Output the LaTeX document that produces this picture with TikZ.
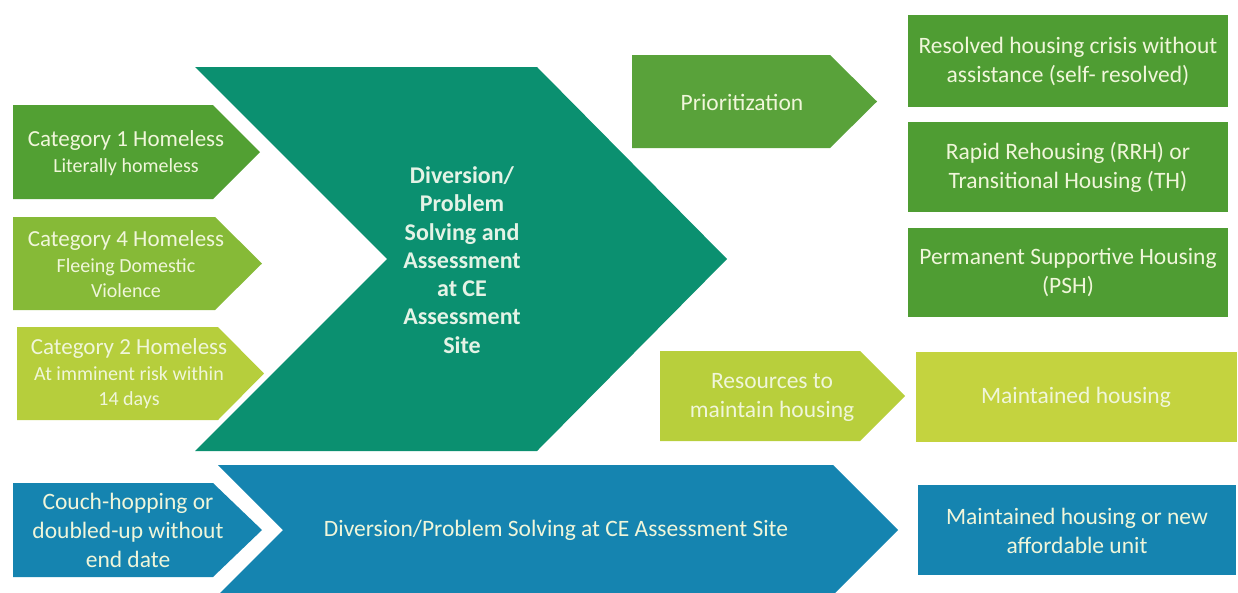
\documentclass[tikz,border=0pt]{standalone}
\usepackage{fontspec}
\setmainfont{Carlito}
\definecolor{tealbig}{HTML}{0B9070}
\definecolor{catone}{HTML}{52A033}
\definecolor{catfour}{HTML}{86BA37}
\definecolor{cattwo}{HTML}{B6CE3C}
\definecolor{priogreen}{HTML}{59A23A}
\definecolor{outgreen}{HTML}{4F9D33}
\definecolor{resgreen}{HTML}{B8CF3C}
\definecolor{maintgreen}{HTML}{C4D33F}
\definecolor{blueflow}{HTML}{1584B0}
\definecolor{pale}{HTML}{F0F6DA}
\definecolor{mint}{HTML}{E4F3E6}
\tikzset{
  txt/.style={text=pale, align=center, font=\fontsize{23.5}{29}\selectfont},
  cattxt/.style={text=pale, align=center, font=\fontsize{20}{25}\selectfont}
}
\begin{document}
\begin{tikzpicture}[x=1pt, y=-1pt]
      \useasboundingbox (0,0) rectangle (1238,592);

      \fill[tealbig] (195,67) -- (537,67) -- (727,259) -- (537,451) -- (195,451) -- (387,259) -- cycle;
        \node[txt, text=mint, font=\bfseries\fontsize{24}{28.3}\selectfont] (assess) at(462,260){Diversion/\\Problem\\Solving and\\Assessment\\at CE\\Assessment\\Site};

      \fill[catone] (13,105) -- (213,105) -- (260,152) -- (213,199) -- (13,199) -- cycle;
        \node[cattxt] (catA) at(126,153){{\fontsize{23}{27}\selectfont Category 1 Homeless}\\[1pt]Literally homeless};
      \fill[catfour] (13,217) -- (215,217) -- (262,263.5) -- (215,310) -- (13,310) -- cycle;
        \node[cattxt] (catD) at(126,264){{\fontsize{23}{27}\selectfont Category 4 Homeless}\\[1pt]Fleeing Domestic\\Violence};
      \fill[cattwo] (17,327) -- (218,327) -- (264,373.5) -- (218,420) -- (17,420) -- cycle;
        \node[cattxt] (catB) at(129,374){{\fontsize{23}{27}\selectfont Category 2 Homeless}\\[1pt]At imminent risk within\\14 days};

      \fill[priogreen] (632,55) -- (830,55) -- (877,101.5) -- (830,148) -- (632,148) -- cycle;
        \node[txt] (prio) at(742,102){Prioritization};
      \fill[resgreen] (660,351) -- (860,351) -- (905,396) -- (860,441) -- (660,441) -- cycle;
        \node[txt] (res) at(772,397){Resources to\\maintain housing};

      \fill[outgreen] (908,15) rectangle (1228,107);
        \node[txt] (selfres) at(1068,61){Resolved housing crisis without\\assistance (self- resolved)};
      \fill[outgreen] (908,122) rectangle (1228,212);
        \node[txt] (rrh) at(1068,167){Rapid Rehousing (RRH) or\\Transitional Housing (TH)};
      \fill[outgreen] (908,228) rectangle (1228,317);
        \node[txt] (psh) at(1068,272){Permanent Supportive Housing\\(PSH)};
      \fill[maintgreen] (916,352) rectangle (1237,442);
        \node[txt] (maint) at(1076,397){Maintained housing};

      \fill[blueflow] (13,483) -- (213,483) -- (262,530) -- (213,577) -- (13,577) -- cycle;
        \node[txt] (couch) at(128,530){Couch-hopping or\\doubled-up without\\end date};
      \fill[blueflow] (218,465) -- (833,465) -- (898,530) -- (833,595) -- (218,595) -- (283,530) -- cycle;
        \node[txt] (divert) at(556,530){Diversion/Problem Solving at CE Assessment Site};
      \fill[blueflow] (918,485) rectangle (1236,575);
        \node[txt] (newunit) at(1077,531){Maintained housing or new\\affordable unit};

    \end{tikzpicture}
\end{document}
